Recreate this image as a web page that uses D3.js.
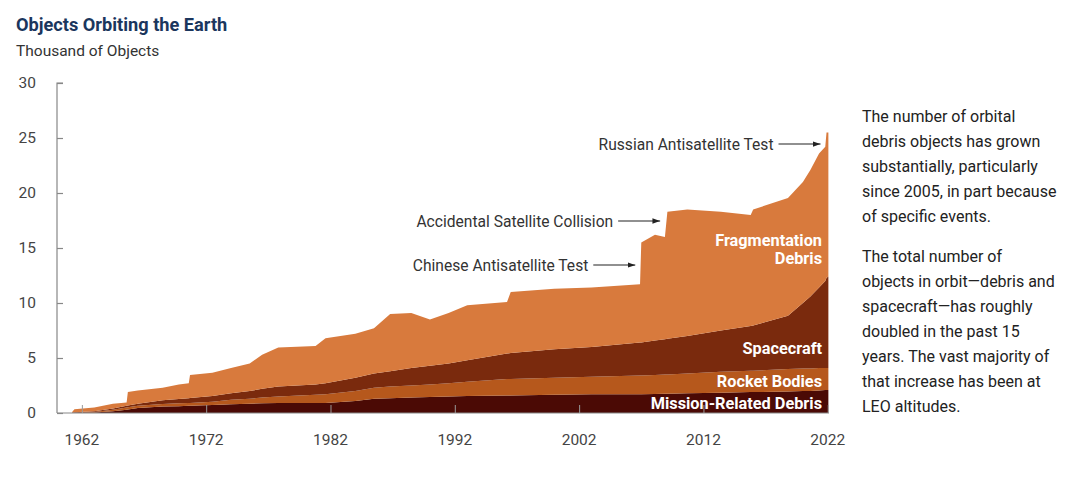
<!DOCTYPE html>
<html>
<head>
<meta charset="utf-8">
<script src="https://cdn.jsdelivr.net/npm/d3@7"></script>
<style>
  html, body { margin: 0; padding: 0; background: #fff; }
  svg { display: block; font-family: Roboto, "Open Sans", sans-serif; }
</style>
</head>
<body>
<svg id="chart" width="1088" height="494"></svg>
<script>
// ---- Data (thousand of objects) ----
const years = [1961.2,1961.4,1963.0,1964.5,1965.6,1965.7,1966.5,1968.5,1969.8,1970.6,1970.7,1972.5,1974.0,1975.5,1976.5,1977.8,1980.8,1981.6,1984.0,1985.5,1986.8,1988.5,1990.0,1991.5,1993.0,1996.2,1996.5,2000.0,2003.0,2006.9,2007.0,2008.1,2008.9,2009.1,2010.7,2013.4,2015.8,2016.0,2018.8,2020.0,2020.6,2021.3,2021.8,2021.9,2022.05];
const missionRelatedDebris = [0.01,0.02,0.05,0.15,0.30,0.32,0.45,0.58,0.62,0.65,0.65,0.72,0.80,0.85,0.88,0.90,0.90,0.92,1.10,1.30,1.35,1.40,1.45,1.50,1.55,1.60,1.60,1.65,1.70,1.70,1.70,1.72,1.75,1.75,1.80,1.85,1.90,1.90,1.95,2.00,2.00,2.05,2.10,2.10,2.10];
const rocketBodies = [0.01,0.01,0.05,0.15,0.20,0.20,0.20,0.24,0.26,0.25,0.25,0.30,0.40,0.45,0.52,0.60,0.75,0.78,0.90,1.00,1.05,1.10,1.15,1.20,1.30,1.50,1.50,1.55,1.60,1.70,1.70,1.73,1.75,1.75,1.80,1.90,1.95,1.95,2.05,2.05,2.05,2.05,2.00,2.00,2.00];
const spacecraft = [0.02,0.03,0.05,0.10,0.15,0.16,0.20,0.33,0.40,0.45,0.46,0.53,0.60,0.70,0.80,0.90,0.95,1.00,1.20,1.30,1.40,1.60,1.70,1.80,1.95,2.30,2.35,2.60,2.70,3.00,3.00,3.15,3.20,3.25,3.40,3.75,4.05,4.10,4.85,5.95,6.55,7.30,7.90,8.20,8.30];
const fragmentationDebris = [0.02,0.29,0.35,0.45,0.30,1.22,1.20,1.15,1.32,1.35,2.09,2.10,2.30,2.50,3.10,3.55,3.50,4.10,4.00,4.10,5.20,5.00,4.20,4.60,5.00,4.70,5.55,5.50,5.40,5.30,9.10,9.60,9.30,11.55,11.50,10.80,10.10,10.55,10.70,11.00,11.50,12.20,12.20,13.20,13.10];

const seriesNames = ["Mission-Related Debris","Rocket Bodies","Spacecraft","Fragmentation Debris"];
const seriesColors = ["#4B0A05","#B6581C","#7A2A0D","#D87A3D"];
const yTicks = [0,5,10,15,20,25,30];
const xTicks = [1962,1972,1982,1992,2002,2012,2022];

const annotations = [
  {text:"Russian Antisatellite Test", year:2021.9, value:24.45},
  {text:"Accidental Satellite Collision", year:2009.0, value:17.45},
  {text:"Chinese Antisatellite Test", year:2007.0, value:13.45}
];

const noteParas = [
  ["The number of orbital","debris objects has grown","substantially, particularly","since 2005, in part because","of specific events."],
  ["The total number of","objects in orbit\u2014debris and","spacecraft\u2014has roughly","doubled in the past 15","years. The vast majority of","that increase has been at","LEO altitudes."]
];

(function(){
const table = years.map((yr,i)=>({
  year:yr,
  "Mission-Related Debris":missionRelatedDebris[i],
  "Rocket Bodies":rocketBodies[i],
  "Spacecraft":spacecraft[i],
  "Fragmentation Debris":fragmentationDebris[i]
}));

const svg = d3.select("#chart");
const pL = 57, pR = 829, pT = 83, pB = 413;

const x = d3.scaleLinear().domain([1960, 2022.1]).range([pL, pR]);
const y = d3.scaleLinear().domain([0, 30]).range([pB, pT]);

// Title
svg.append("text").attr("x",16).attr("y",31)
  .attr("font-size",18.2).attr("font-weight",700).attr("fill","#1B365D")
  .text("Objects Orbiting the Earth");
svg.append("text").attr("x",16).attr("y",56)
  .attr("font-size",15.5).attr("fill","#333")
  .text("Thousand of Objects");

// Stack
const layers = d3.stack().keys(seriesNames)(table);
const area = d3.area()
  .x(d=>x(d.data.year))
  .y0(d=>y(d[0]))
  .y1(d=>y(d[1]))
  .curve(d3.curveLinear);

svg.append("g").selectAll("path").data(layers).join("path")
  .attr("d", area)
  .attr("fill", (d,i)=>seriesColors[i]);

// Y axis
const yAxis = d3.axisRight(y).tickValues(yTicks).tickSize(6).tickFormat("");
const gy = svg.append("g").attr("transform",`translate(${pL},0)`).call(yAxis);
gy.select(".domain").attr("stroke","#888").attr("stroke-width",1.2).attr("d",`M6,${pT}H0V${pB}`);
gy.selectAll(".tick line").attr("stroke","#888").attr("stroke-width",1.2);

svg.append("g").selectAll("text").data(yTicks).join("text")
  .attr("x",36).attr("y",d=>y(d)).attr("dy","0.35em")
  .attr("text-anchor","end").attr("font-size",15.5).attr("fill","#444")
  .text(d=>d);

// X axis
const xAxis = d3.axisTop(x).tickValues(xTicks).tickSize(8).tickFormat("");
const gx = svg.append("g").attr("transform",`translate(0,${pB})`).call(xAxis);
gx.select(".domain").attr("stroke","#888").attr("stroke-width",1.2).attr("d",`M${pL},0H${pR}`);
gx.selectAll(".tick line").attr("stroke","#999").attr("stroke-width",1);

svg.append("g").selectAll("text").data(xTicks).join("text")
  .attr("x",d=>x(d)).attr("y",440).attr("dy","0.35em")
  .attr("text-anchor","middle").attr("font-size",15.5).attr("fill","#444")
  .text(d=>d);

// Layer labels
const labelX = 822;
const layerLabels = [
  {lines:["Mission-Related Debris"], ys:[403]},
  {lines:["Rocket Bodies"], ys:[381]},
  {lines:["Spacecraft"], ys:[348]},
  {lines:["Fragmentation","Debris"], ys:[240,258]}
];
layerLabels.forEach(l=>{
  l.lines.forEach((t,j)=>{
    svg.append("text").attr("x",labelX).attr("y",l.ys[j]).attr("dy","0.35em")
      .attr("text-anchor","end").attr("font-size",16.3).attr("font-weight",700)
      .attr("fill","#fff").text(t);
  });
});

// Annotations with arrows
svg.append("defs").append("marker").attr("id","arr").attr("viewBox","0 0 10 10")
  .attr("refX",10).attr("refY",5).attr("markerWidth",7).attr("markerHeight",7)
  .attr("orient","auto")
  .append("path").attr("d","M0,1.5L10,5L0,8.5Z").attr("fill","#222");

annotations.forEach(a=>{
  const ax = x(a.year) - 6;
  const ay = y(a.value);
  const x1 = ax - 42;
  svg.append("line").attr("x1",x1).attr("x2",ax).attr("y1",ay).attr("y2",ay)
    .attr("stroke","#222").attr("stroke-width",1.1).attr("marker-end","url(#arr)");
  svg.append("text").attr("x",x1-5).attr("y",ay).attr("dy","0.35em")
    .attr("text-anchor","end").attr("font-size",15.6).attr("fill","#333")
    .text(a.text);
});

// Side notes
let ny = 116;
noteParas.forEach(p=>{
  p.forEach(line=>{
    svg.append("text").attr("x",862).attr("y",ny).attr("dy","0.35em")
      .attr("font-size",16).attr("fill","#222").text(line);
    ny += 25;
  });
  ny += 15;
});
})();
</script>
</body>
</html>
